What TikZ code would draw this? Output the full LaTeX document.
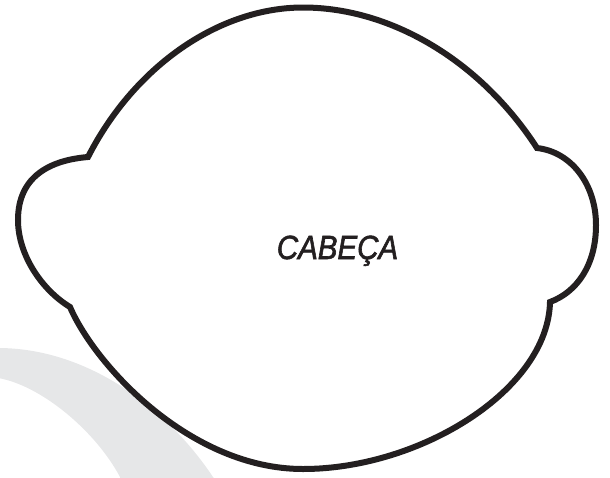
\documentclass[tikz,border=0pt]{standalone}
\usepackage{fontspec}
\setmainfont{Liberation Sans}
\newfontfamily\lblfont[ItalicFeatures={FakeStretch=0.88},FakeStretch=0.88]{Liberation Sans}
\definecolor{inkc}{HTML}{231F20}
\definecolor{bandc}{HTML}{E6E7E8}
\begin{document}
\begin{tikzpicture}[x=1pt,y=-1pt,
  headline/.style={draw=inkc,line width=6pt,line join=miter},
  bandfill/.style={fill=bandc,draw=none},
  labeltext/.style={font=\lblfont\itshape\fontsize{33.5}{36}\selectfont,text=inkc,inner sep=0pt}]
\useasboundingbox (0,0) rectangle (610,477);
\begin{scope}
\clip (0,0) rectangle (610,477);
\fill[bandfill] (-2,348) .. controls (85,348) and (165,405) .. (213,477)
  -- (225,490) -- (120,490) -- (120,477) .. controls (95,430) and (40,385) .. (-2,378) -- cycle;
\end{scope}
\coordinate (LT) at (88,157);
\coordinate (T) at (303,7.5);
\coordinate (RT) at (537,148);
\coordinate (RE) at (596,225);
\coordinate (RB) at (550,302);
\coordinate (B) at (303,469);
\coordinate (LB) at (70,307);
\coordinate (LE) at (18,220);
\draw[headline] (LT) .. controls (135,65) and (220,7.5) .. (T)
  .. controls (390,7.5) and (480,60) .. (RT)
  .. controls (572,152) and (596,185) .. (RE)
  .. controls (596,265) and (577,292) .. (RB)
  .. controls (548,390) and (420,469) .. (B)
  .. controls (190,469) and (95,365) .. (LB)
  .. controls (42,290) and (18,255) .. (LE)
  .. controls (18,175) and (52,160) .. (LT) -- cycle;
\node[labeltext,anchor=base] (lbl) at (337.5,259) {\special{pdf:literal 2 Tr 0.6 w}CABEÇA\special{pdf:literal 0 Tr}};
\end{tikzpicture}
\end{document}
